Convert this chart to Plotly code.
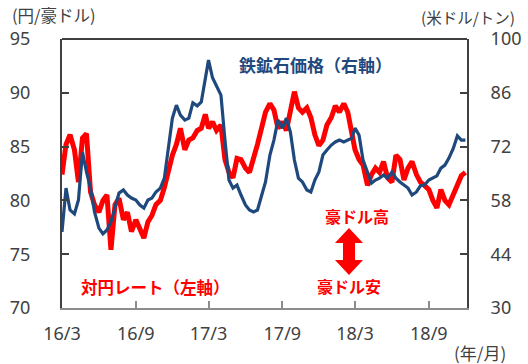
import plotly.graph_objects as go

dates = [
    "2016-03-01", "2016-03-11", "2016-03-21", "2016-04-01", "2016-04-11", "2016-04-21",
    "2016-05-01", "2016-05-11", "2016-05-21", "2016-06-01", "2016-06-11", "2016-06-21",
    "2016-07-01", "2016-07-11", "2016-07-21", "2016-08-01", "2016-08-11", "2016-08-21",
    "2016-09-01", "2016-09-11", "2016-09-21", "2016-10-01", "2016-10-11", "2016-10-21",
    "2016-11-01", "2016-11-11", "2016-11-21", "2016-12-01", "2016-12-11", "2016-12-21",
    "2017-01-01", "2017-01-11", "2017-01-21", "2017-02-01", "2017-02-11", "2017-02-21",
    "2017-03-01", "2017-03-11", "2017-03-21", "2017-04-01", "2017-04-11", "2017-04-21",
    "2017-05-01", "2017-05-11", "2017-05-21", "2017-06-01", "2017-06-11", "2017-06-21",
    "2017-07-01", "2017-07-11", "2017-07-21", "2017-08-01", "2017-08-11", "2017-08-21",
    "2017-09-01", "2017-09-11", "2017-09-21", "2017-10-01", "2017-10-11", "2017-10-21",
    "2017-11-01", "2017-11-11", "2017-11-21", "2017-12-01", "2017-12-11", "2017-12-21",
    "2018-01-01", "2018-01-11", "2018-01-21", "2018-02-01", "2018-02-11", "2018-02-21",
    "2018-03-01", "2018-03-11", "2018-03-21", "2018-04-01", "2018-04-11", "2018-04-21",
    "2018-05-01", "2018-05-11", "2018-05-21", "2018-06-01", "2018-06-11", "2018-06-21",
    "2018-07-01", "2018-07-11", "2018-07-21", "2018-08-01", "2018-08-11", "2018-08-21",
    "2018-09-01", "2018-09-11", "2018-09-21", "2018-10-01", "2018-10-11", "2018-10-21",
    "2018-11-01", "2018-11-11", "2018-11-21", "2018-12-01",
]

# AUD/JPY (left axis, yen per AUD)
aud_jpy = [
    82.4, 85.2, 86.1, 84.7, 81.7, 85.8,
    86.2, 80.8, 79.6, 78.9, 80.0, 80.5,
    75.4, 79.6, 80.2, 78.2, 78.9, 77.1,
    78.2, 77.4, 76.5, 78.0, 78.6, 79.6,
    80.0, 81.2, 82.8, 84.2, 85.2, 86.7,
    84.7, 85.6, 85.8, 86.5, 86.7, 88.0,
    86.7, 87.3, 86.5, 87.0, 83.8, 82.6,
    82.1, 83.9, 83.8, 83.0, 82.6, 83.8,
    85.2, 86.7, 88.2, 89.0, 88.4, 86.7,
    87.3, 86.5, 88.6, 90.1, 88.6, 88.2,
    88.6, 87.7, 86.1, 85.1, 85.6, 87.0,
    87.7, 88.8, 88.2, 89.0, 88.2, 86.1,
    84.7, 83.8, 83.3, 81.4, 82.4, 83.0,
    82.6, 83.6, 82.1, 81.7, 84.2, 83.8,
    81.9, 83.0, 83.6, 82.4, 81.7, 81.4,
    81.0, 80.0, 79.3, 81.0, 80.0, 79.6,
    80.5, 81.4, 82.3, 82.6,
]

# Iron ore price (right axis, USD per tonne)
iron_ore = [
    49.8, 61.2, 55.5, 54.5, 58.1, 70.6,
    65.4, 61.2, 55.0, 50.8, 49.3, 50.3,
    52.4, 56.0, 59.9, 60.7, 59.4, 58.6,
    58.1, 56.8, 56.0, 58.1, 58.6, 60.2,
    61.2, 63.8, 71.1, 79.4, 82.8, 80.2,
    78.9, 79.4, 83.4, 82.6, 83.6, 89.3,
    94.5, 89.9, 87.8, 85.4, 73.7, 63.3,
    61.2, 62.0, 59.4, 56.8, 55.5, 55.0,
    55.5, 59.4, 62.8, 69.8, 73.7, 78.9,
    76.8, 79.4, 75.8, 68.5, 63.8, 62.8,
    60.7, 60.2, 63.3, 65.4, 69.8, 71.1,
    72.4, 73.2, 73.7, 73.2, 73.7, 74.2,
    76.8, 75.0, 68.5, 65.4, 62.5, 63.3,
    63.8, 64.6, 63.8, 65.4, 63.8, 62.8,
    62.0, 61.2, 59.4, 60.2, 61.8, 62.0,
    63.3, 63.8, 64.4, 66.4, 67.2, 69.0,
    71.6, 74.8, 73.7, 73.7,
]

x_tick_vals = ["2016-03-01", "2016-09-01", "2017-03-01", "2017-09-01", "2018-03-01", "2018-09-01"]
x_tick_text = ["16/3", "16/9", "17/3", "17/9", "18/3", "18/9"]
left_ticks = [70, 75, 80, 85, 90, 95]
right_ticks = [30, 44, 58, 72, 86, 100]

RED = "#FF0000"
BLUE = "#1F497D"
GREY = "#404040"
LAT = "Noto Sans, Noto Sans CJK JP, sans-serif"
JP = "Noto Sans CJK JP, Noto Sans, sans-serif"

fig = go.Figure()
fig.add_trace(go.Scatter(x=dates, y=aud_jpy, mode="lines", name="対円レート（左軸）",
                         line=dict(color=RED, width=5), yaxis="y"))
fig.add_trace(go.Scatter(x=dates, y=iron_ore, mode="lines", name="鉄鉱石価格（右軸）",
                         line=dict(color=BLUE, width=3.2), yaxis="y2"))

tickfont = dict(family=LAT, size=18, color=GREY)

fig.update_layout(
    width=528, height=364,
    margin=dict(l=62, r=61, t=39, b=56, autoexpand=False),
    paper_bgcolor="white", plot_bgcolor="white",
    showlegend=False,
    xaxis=dict(type="date", range=["2016-03-01", "2018-12-05"],
               tickvals=x_tick_vals, ticktext=x_tick_text,
               ticks="inside", ticklen=7, tickwidth=1.5, tickcolor="#8C8C8C",
               showline=True, linecolor="#8C8C8C", linewidth=2,
               showgrid=False, zeroline=False, tickfont=tickfont,
               ticklabelstandoff=8, automargin=False),
    yaxis=dict(range=[70, 95], tickvals=left_ticks,
               ticks="inside", ticklen=7, tickwidth=2, tickcolor=GREY,
               showline=True, linecolor=GREY, linewidth=2,
               showgrid=False, zeroline=False, tickfont=tickfont,
               ticklabelstandoff=26, automargin=False),
    yaxis2=dict(range=[30, 100], tickvals=right_ticks, overlaying="y", side="right",
                ticks="inside", ticklen=7, tickwidth=2, tickcolor=GREY,
                showline=True, linecolor=GREY, linewidth=2,
                showgrid=False, zeroline=False, tickfont=tickfont,
                ticklabelstandoff=18, automargin=False),
)

# top frame line
fig.add_shape(type="line", xref="paper", yref="paper", x0=0, x1=1, y0=1, y1=1,
              line=dict(color=GREY, width=2))

# double-headed arrow (paper coordinates)
arrow_path = ("M 0.7086 0.2974 L 0.7432 0.2416 L 0.7235 0.2416 L 0.7235 0.1784 "
              "L 0.7432 0.1784 L 0.7086 0.1227 L 0.6741 0.1784 L 0.6938 0.1784 "
              "L 0.6938 0.2416 L 0.6741 0.2416 Z")
fig.add_shape(type="path", xref="paper", yref="paper", path=arrow_path,
              fillcolor=RED, line=dict(color=RED, width=0))

def ann(text, x, y, xanchor, size, color=GREY, bold=False):
    fig.add_annotation(text=f"<b>{text}</b>" if bold else text,
                       x=x, y=y, xref="paper", yref="paper",
                       xanchor=xanchor, yanchor="middle", showarrow=False,
                       font=dict(family=JP, size=size, color=color))

ann("(円/豪ドル)", -0.128, 1.089, "left", 16.5)
ann("(米ドル/トン)", 1.1235, 1.0818, "right", 15.5)
ann("(年/月)", 1.1012, -0.1636, "right", 17)
ann("鉄鉱石価格（右軸）", 0.6247, 0.907, "center", 17, BLUE, True)
ann("対円レート（左軸）", 0.232, 0.078, "center", 16.5, RED, True)
ann("豪ドル高", 0.728, 0.342, "center", 16, RED, True)
ann("豪ドル安", 0.7086, 0.0818, "center", 16, RED, True)

fig.write_html("out.html", config={"displayModeBar": False},
               post_script="document.body.style.margin='0';")
